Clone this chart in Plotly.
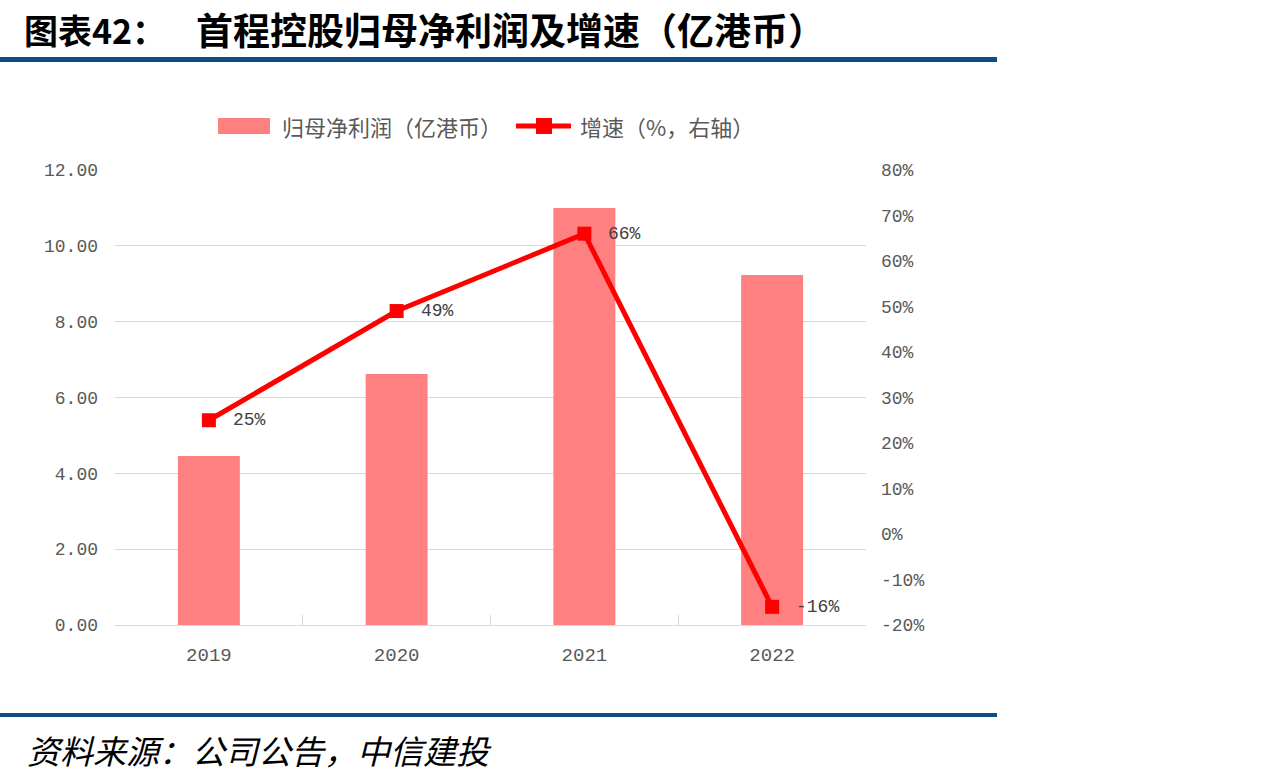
import plotly.graph_objects as go

years = ["2019", "2020", "2021", "2022"]
profit = [4.46, 6.62, 11.0, 9.23]          # 归母净利润（亿港币）
growth = [25, 49, 66, -16]                 # 增速（%）
growth_labels = ["25%", "49%", "66%", "-16%"]
left_ticks = [0, 2, 4, 6, 8, 10, 12]
left_ticktext = ["0.00", "2.00", "4.00", "6.00", "8.00", "10.00", "12.00"]
right_ticks = [-20, -10, 0, 10, 20, 30, 40, 50, 60, 70, 80]
right_ticktext = [f"{v}%" for v in right_ticks]

W, H = 1267, 782
PX0, PX1 = 115, 866
PY0, PY1 = 170, 625
MONO = "Liberation Mono, DejaVu Sans Mono, monospace"
TICKFONT = dict(family=MONO, size=18, color="#595959")
CJK = "Noto Sans CJK SC"

fig = go.Figure()
fig.add_trace(go.Bar(
    x=years, y=profit, name="归母净利润（亿港币）",
    marker=dict(color="#FF8080", line=dict(width=0)),
    yaxis="y", showlegend=False,
))
fig.add_trace(go.Scatter(
    x=years, y=growth, name="增速（%，右轴）", yaxis="y2",
    mode="lines+markers",
    line=dict(color="#FF0000", width=5),
    marker=dict(symbol="square", size=14, color="#FF0000"),
    showlegend=False, cliponaxis=False,
))

def px(x):
    return x / W

def py(y):
    return 1 - y / H

shapes = [
    dict(type="rect", xref="paper", yref="paper", x0=px(0), x1=px(997), y0=py(62), y1=py(57),
         fillcolor="#0F4C81", line=dict(width=0)),
    dict(type="rect", xref="paper", yref="paper", x0=px(0), x1=px(997), y0=py(717), y1=py(713),
         fillcolor="#0F4C81", line=dict(width=0)),
    dict(type="rect", xref="paper", yref="paper", x0=px(218), x1=px(270), y0=py(134), y1=py(118),
         fillcolor="#FF8080", line=dict(width=0)),
    dict(type="line", xref="paper", yref="paper", x0=px(516), x1=px(571), y0=py(126), y1=py(126),
         line=dict(color="#FF0000", width=5)),
    dict(type="rect", xref="paper", yref="paper", x0=px(536), x1=px(552), y0=py(134), y1=py(118),
         fillcolor="#FF0000", line=dict(width=0)),
]

annotations = [
    dict(text="<b>图表42：</b>", x=px(22), y=py(29), xref="paper", yref="paper",
         xanchor="left", yanchor="middle", showarrow=False,
         font=dict(family=CJK, size=34, color="#000000")),
    dict(text="<b>首程控股归母净利润及增速（亿港币）</b>", x=px(194), y=py(29), xref="paper", yref="paper",
         xanchor="left", yanchor="middle", showarrow=False,
         font=dict(family=CJK, size=37, color="#000000")),
    dict(text="<i>资料来源：公司公告，中信建投</i>", x=px(25), y=py(750), xref="paper", yref="paper",
         xanchor="left", yanchor="middle", showarrow=False,
         font=dict(family=CJK, size=33, color="#000000")),
    dict(text="归母净利润（亿港币）", x=px(280), y=py(126), xref="paper", yref="paper",
         xanchor="left", yanchor="middle", showarrow=False,
         font=dict(family=CJK, size=22, color="#595959")),
    dict(text="增速（%，右轴）", x=px(578), y=py(126), xref="paper", yref="paper",
         xanchor="left", yanchor="middle", showarrow=False,
         font=dict(family=CJK, size=22, color="#595959")),
]

for i, (g, lab) in enumerate(zip(growth, growth_labels)):
    annotations.append(dict(
        text=lab, x=i, y=g, xref="x", yref="y2", xanchor="left", yanchor="middle",
        xshift=22, showarrow=False, font=dict(family=MONO, size=18, color="#404040"),
    ))

fig.update_layout(
    width=W, height=H,
    margin=dict(l=0, r=0, t=0, b=0),
    paper_bgcolor="white", plot_bgcolor="white",
    template="none",
    bargap=0.67,
    showlegend=False,
    xaxis=dict(
        domain=[PX0 / W, PX1 / W], type="category", range=[-0.5, len(years) - 0.5],
        showline=True, linecolor="#D9D9D9", linewidth=1,
        ticks="inside", tickson="boundaries", ticklen=10, tickcolor="#D9D9D9",
        showgrid=False, tickfont=dict(family=MONO, size=19, color="#595959"),
        ticklabelstandoff=12, automargin=False, zeroline=False, tickangle=0,
    ),
    yaxis=dict(
        domain=[1 - PY1 / H, 1 - PY0 / H], range=[0, 12],
        tickvals=left_ticks, ticktext=left_ticktext,
        showgrid=True, gridcolor="#D9D9D9", gridwidth=1,
        showline=False, zeroline=False, ticks="",
        tickfont=TICKFONT, ticklabelstandoff=16, automargin=False,
    ),
    yaxis2=dict(
        overlaying="y", side="right", anchor="x", range=[-20, 80],
        tickvals=right_ticks, ticktext=right_ticktext,
        showgrid=False, showline=False, zeroline=False, ticks="",
        tickfont=TICKFONT, ticklabelstandoff=14, automargin=False,
    ),
    shapes=shapes,
    annotations=annotations,
)

fig.write_html("out.html")
